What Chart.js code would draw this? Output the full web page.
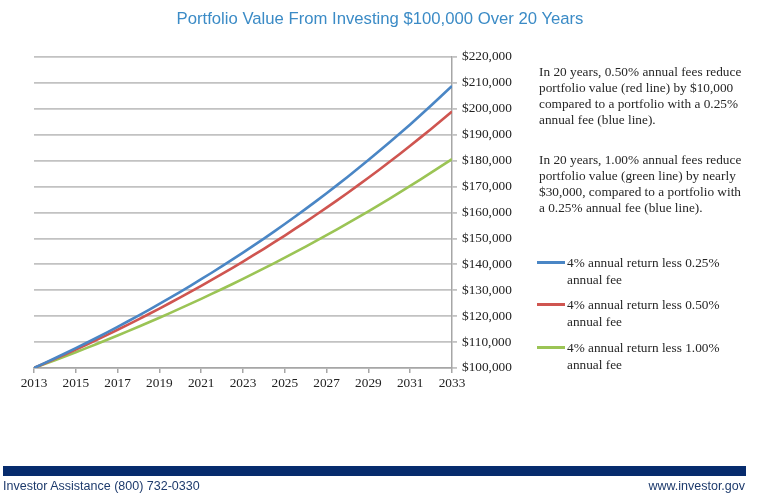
<!DOCTYPE html>
<html>
<head>
<meta charset="utf-8">
<script src="https://cdn.jsdelivr.net/npm/chart.js@4"></script>
<style>
  html, body { margin: 0; padding: 0; background: #fff; }
  #wrap { position: relative; width: 760px; height: 499px; overflow: hidden; }
  #chart { position: absolute; left: 0; top: 0; }
  #title {
    position: absolute; left: 0; width: 760px; top: 9px; text-align: center;
    font-family: "Liberation Sans", Arial, sans-serif; font-size: 16.7px; color: #3b8bc6;
  }
  .note {
    position: absolute; left: 539px; width: 220px;
    font-family: "Liberation Serif", "Times New Roman", serif; font-size: 13.3px;
    line-height: 16px; color: #262626;
  }
  .leg {
    position: absolute; left: 537px;
    font-family: "Liberation Serif", "Times New Roman", serif; font-size: 13.3px;
    line-height: 17px; color: #262626;
  }
  .leg .mark { position: absolute; left: 0; top: 7px; width: 28px; height: 3px; }
  .leg .txt { position: absolute; left: 30px; top: 0; white-space: nowrap; }
  #bar { position: absolute; left: 3px; top: 466px; width: 743px; height: 10px; background: #062b6d; }
  .foot {
    position: absolute; top: 479px; font-family: "Liberation Sans", Arial, sans-serif;
    font-size: 12.5px; color: #1d3a6c;
  }
</style>
</head>
<body>
<div id="wrap">
  <canvas id="chart" width="760" height="499"></canvas>
  <div id="title">Portfolio Value From Investing $100,000 Over 20 Years</div>
  <div class="note" style="top:64px">In 20 years, 0.50% annual fees reduce<br>portfolio value (red line) by $10,000<br>compared to a portfolio with a 0.25%<br>annual fee (blue line).</div>
  <div class="note" style="top:152px">In 20 years, 1.00% annual fees reduce<br>portfolio value (green line) by nearly<br>$30,000, compared to a portfolio with<br>a 0.25% annual fee (blue line).</div>
  <div id="legend"></div>
  <div id="bar"></div>
  <div class="foot" style="left:3px">Investor Assistance (800) 732-0330</div>
  <div class="foot" style="right:15px">www.investor.gov</div>
</div>
<script>
// years on the x axis
const years = [2013, 2014, 2015, 2016, 2017, 2018, 2019, 2020, 2021, 2022, 2023,
  2024, 2025, 2026, 2027, 2028, 2029, 2030, 2031, 2032, 2033];

// portfolio values
const fee025 = [100000, 103750, 107640, 111680, 115870, 120210, 124720, 129400, 134250, 139280, 144510,
  149920, 155550, 161380, 167430, 173710, 180220, 186980, 193990, 201270, 208820];
const fee050 = [100000, 103500, 107120, 110870, 114750, 118770, 122930, 127230, 131680, 136290, 141060,
  146000, 151110, 156400, 161870, 167540, 173400, 179470, 185750, 192250, 198980];
const fee100 = [100000, 103000, 106090, 109270, 112550, 115930, 119410, 122990, 126680, 130480, 134390,
  138420, 142580, 146850, 151260, 155800, 160470, 165290, 170240, 175350, 180610];

const seriesNames = [
  ['4% annual return less 0.25%', 'annual fee'],
  ['4% annual return less 0.50%', 'annual fee'],
  ['4% annual return less 1.00%', 'annual fee']
];
const seriesColors = ['#4a86c5', '#cf5550', '#9bc455'];
const legendTops = [254, 296, 339];

const allSeries = [fee025, fee050, fee100];

// legend on the right
const legend = document.getElementById('legend');
seriesNames.forEach((name, i) => {
  const el = document.createElement('div');
  el.className = 'leg';
  el.style.top = legendTops[i] + 'px';
  el.innerHTML = '<span class="mark" style="background:' + seriesColors[i] + '"></span>' +
    '<span class="txt">' + name.join('<br>') + '</span>';
  legend.appendChild(el);
});

const money = v => '$' + v.toLocaleString('en-US');
const serif = '"Liberation Serif", "Times New Roman", serif';

const ctx = document.getElementById('chart').getContext('2d');
new Chart(ctx, {
  type: 'line',
  data: {
    datasets: allSeries.map((vals, i) => ({
      label: seriesNames[i].join(' '),
      data: vals.map((v, j) => ({ x: years[j], y: v })),
      borderColor: seriesColors[i],
      borderWidth: 2.6,
      pointRadius: 0,
      tension: 0.2,
      fill: false
    }))
  },
  options: {
    responsive: false,
    animation: false,
    layout: { padding: { top: 57, left: 34, right: 228, bottom: 101 } },
    plugins: {
      legend: { display: false },
      title: { display: false },
      tooltip: { enabled: false }
    },
    scales: {
      x: {
        type: 'linear',
        min: 2013,
        max: 2033,
        afterFit: s => { s.height = 30; },
        ticks: {
          stepSize: 2,
          padding: 3,
          color: '#222',
          font: { family: serif, size: 13.3 },
          callback: v => String(v)
        },
        grid: { drawOnChartArea: false, drawTicks: true, tickLength: 5, color: '#a6a6a6', lineWidth: 1.5 },
        border: { display: true, color: '#a6a6a6', width: 1.5 }
      },
      y: {
        position: 'right',
        min: 100000,
        max: 220000,
        afterFit: s => { s.width = 80; },
        ticks: {
          stepSize: 10000,
          padding: 5,
          color: '#222',
          font: { family: serif, size: 13.3 },
          callback: v => money(v)
        },
        grid: { color: '#c2c2c2', lineWidth: 1.8, tickLength: 5, drawTicks: true },
        border: { display: true, color: '#a6a6a6', width: 1.5 }
      }
    }
  }
});
</script>
</body>
</html>
